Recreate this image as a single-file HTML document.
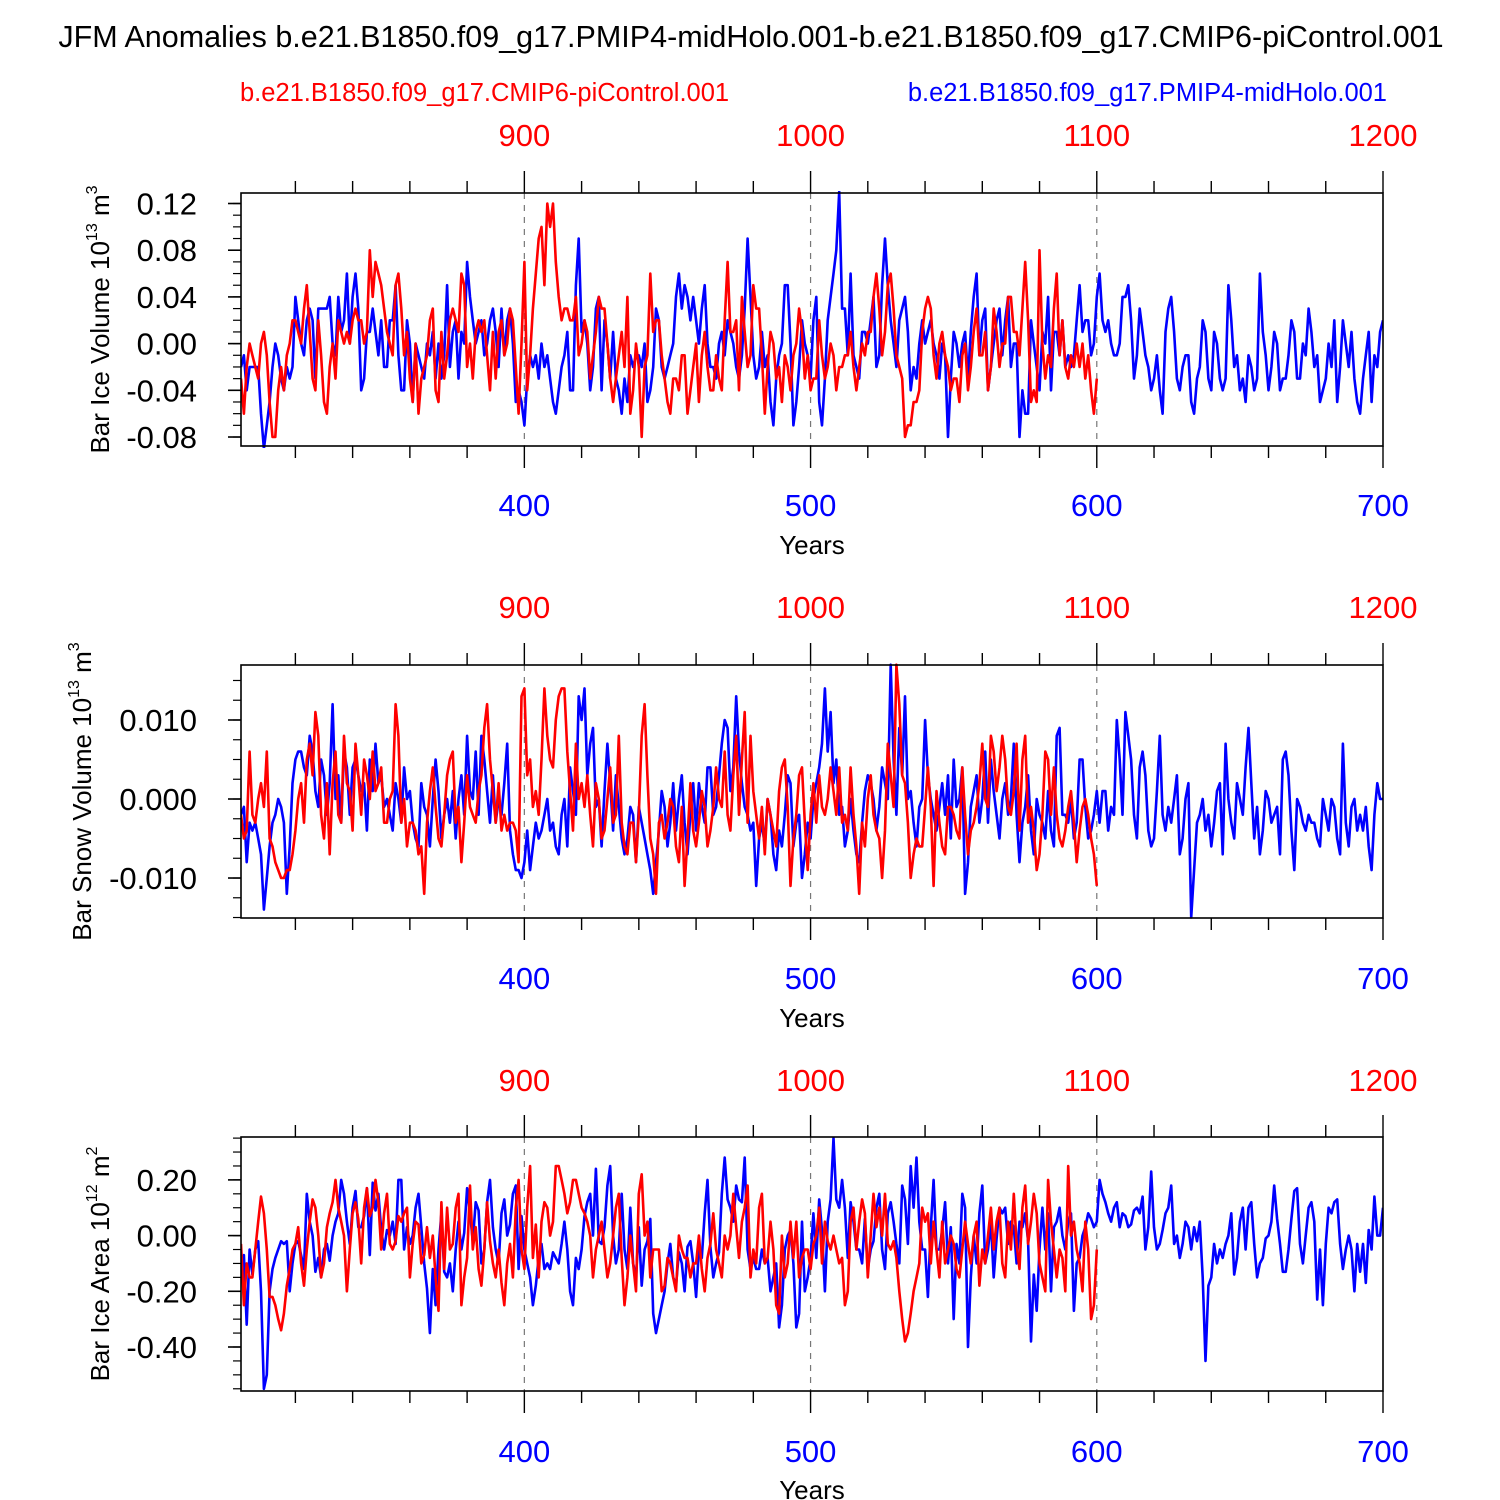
<!DOCTYPE html>
<html><head><meta charset="utf-8"><style>
html,body{margin:0;padding:0;background:#fff;}
svg{display:block;font-family:"Liberation Sans",Arial,sans-serif;}
</style></head><body>
<svg id="chart" width="1500" height="1500" viewBox="0 0 1500 1500" xmlns="http://www.w3.org/2000/svg">
<text x="751" y="47" font-size="30.5" text-anchor="middle">JFM Anomalies b.e21.B1850.f09_g17.PMIP4-midHolo.001-b.e21.B1850.f09_g17.CMIP6-piControl.001</text>
<text x="240" y="101" font-size="25.5" fill="#ff0000">b.e21.B1850.f09_g17.CMIP6-piControl.001</text>
<text x="1387" y="101" font-size="25.5" fill="#0000ff" text-anchor="end">b.e21.B1850.f09_g17.PMIP4-midHolo.001</text>
</svg>
<script>
// ===== data (year index: blue 301..700, red 801..1100) =====
const blueYearStart = 301;
const redYearStart = 801;
const redOffset = 500;
const xTicksBottom = [400, 500, 600, 700];
const xTicksTop = [900, 1000, 1100, 1200];

// Panel 1: Bar Ice Volume (units 0.01 x 1e13 m3)
const iceVolBlue = [-2,-1,-4,-2,-2,-2,-2,-6,-9,-7,-5,-2,0,-1,-3,-4,-2,-3,-2,4,
2,0,-1,2,3,2,-3,3,3,3,3,4,0,-1,4,1,2,6,0,4,
6,3,-4,-3,1,1,3,1,-1,2,-2,-2,2,2,5,-1,-4,-4,2,0,
-5,0,-1,-2,-3,0,-1,1,-3,0,-3,-1,5,-2,1,2,-3,1,0,7,
4,2,0,1,2,-1,0,2,3,1,-2,3,-1,2,3,0,-5,-4,-5,-7,
-3,-1,-2,-1,-3,0,-2,-1,-3,-5,-6,-4,-2,-1,1,-4,-4,5,9,1,
2,0,-4,-2,3,4,-4,2,0,-3,1,-3,-4,-6,-3,-5,-1,-2,-1,-1,
-2,0,-5,-4,-2,3,2,-2,-3,-2,-1,0,4,6,3,5,4,2,4,2,
0,3,5,0,-2,-2,-3,0,1,-1,2,1,0,-2,-3,-1,3,9,4,-1,
-3,-2,1,-2,-1,-5,-7,-3,-1,0,5,5,0,-7,-5,-2,2,0,-1,-3,
2,4,-5,-7,-3,2,4,6,8,13,3,3,-1,6,-1,-2,-3,1,1,0,
2,4,-2,-1,5,9,5,2,0,-2,2,3,4,1,-4,-2,-3,0,2,0,
1,2,0,-1,-3,0,-1,-8,-3,1,0,-2,0,1,-3,1,4,6,-1,2,
3,-4,-2,0,2,3,-1,2,4,-2,0,0,-8,-4,-6,-6,2,0,-2,-4,
1,0,4,-4,1,1,-1,2,-2,-1,-2,-1,2,5,1,2,2,-1,0,4,
6,2,1,2,0,-1,-1,0,4,4,5,2,-3,-1,3,1,-1,-2,-4,-3,
-1,-4,-6,1,3,4,1,-3,-4,-2,-1,-1,-5,-6,-3,-2,2,1,-3,-4,
1,0,-3,-4,-3,5,2,-2,-1,-4,-3,-5,-1,-2,-4,-3,6,1,-1,-4,
-2,1,0,-4,-3,-3,-1,2,1,-3,-3,0,-1,3,1,-2,-1,-5,-4,-3,
0,-2,2,-5,-2,2,0,-2,1,-3,-5,-6,-3,-1,1,-5,-1,-2,1,2];
const iceVolRed = [-3,-6,-2,0,-1,-2,-3,0,1,-1,-5,-8,-8,-4,-2,-4,-1,0,2,2,
1,0,3,5,1,-3,-4,2,-1,-5,-6,-2,0,-3,2,1,0,1,0,2,
3,2,2,0,1,8,4,7,6,5,3,1,0,-1,5,6,3,-1,1,-3,
-5,0,-6,-3,-2,-1,2,3,-4,-5,1,-3,-1,2,3,2,1,6,5,-2,
0,-3,1,2,1,2,-1,-4,1,-3,1,2,-1,0,3,2,-2,-6,0,7,
-4,-1,3,6,9,10,5,12,10,12,7,4,2,3,3,2,2,4,-1,0,
2,1,-3,-1,1,4,3,3,0,-3,-5,-3,-1,1,-2,4,-6,-4,0,-2,
-8,-2,-1,6,1,2,2,-1,-3,-5,-6,-3,-3,-4,-1,-1,-6,-4,-2,0,
-5,-1,1,-2,-4,-4,-1,-3,-4,2,7,1,1,2,-4,4,1,-2,-1,5,
3,3,-1,-6,-2,1,0,-3,-2,-5,-1,-2,-4,-1,0,3,1,-3,-1,-4,
-3,-3,2,-1,-3,-2,0,-1,-4,-2,-2,-1,-1,1,-2,-4,-2,0,-1,1,
1,4,6,3,-1,1,5,6,3,-1,-2,-3,-8,-7,-7,-5,-5,-4,1,3,
4,3,-1,-3,0,1,-1,-2,-4,-3,-3,-5,-1,0,-4,-2,1,3,-1,-1,
1,-4,-2,3,1,-2,0,0,4,4,1,1,-1,3,7,2,-5,-4,-5,8,
0,-3,-1,-2,3,6,-1,2,-2,-3,-1,-2,0,-2,0,-3,-1,-4,-6,-3];
const iceVolTicks = [0.12,0.08,0.04,0.00,-0.04,-0.08];
const iceVolTickLabels = ["0.12","0.08","0.04","0.00","-0.04","-0.08"];

// Panel 2: Bar Snow Volume (units 0.001 x 1e13 m3)
const snowVolBlue = [-2,-1,-8,-3,-4,-3,-5,-7,-14,-10,-6,-3,-2,0,-1,-3,-12,-6,2,5,
6,6,4,3,8,6,1,-1,5,3,-2,2,12,0,3,-3,6,4,-2,4,
5,3,1,2,-4,5,1,7,2,3,-1,0,-2,-4,2,0,-3,4,0,1,
-3,-5,-6,2,-1,-2,-6,0,5,1,-5,-2,0,-3,1,-5,0,3,-2,8,
1,0,6,-2,8,5,1,-3,3,-3,0,-2,2,7,-4,-7,-9,-9,-10,-8,
-4,-9,-6,-3,-5,-4,-2,0,-4,-3,-6,-7,-2,0,-6,4,1,-2,13,10,
14,3,7,9,-1,0,-6,1,7,2,-4,3,-1,-5,-7,-5,-1,-2,-8,-1,
-3,-5,-7,-9,-12,-8,-4,1,-1,-6,-3,2,-4,0,3,-3,-7,-2,2,-4,
2,-1,-3,4,4,-2,-1,3,7,10,9,1,4,13,6,2,-1,-2,-4,-3,
-11,-5,-3,-6,0,-2,-7,-9,-4,-6,-2,3,2,-6,-3,-2,-10,-7,-3,-5,
0,2,4,7,14,6,11,2,5,-2,-1,-6,-4,0,-4,-7,-8,-3,1,3,
2,0,-4,-1,4,2,0,17,5,-2,9,3,13,0,1,-3,-6,-1,0,10,
3,0,-2,-4,-1,2,-2,3,-5,5,-1,0,4,-12,-8,-1,1,3,-3,0,
6,-3,5,1,-2,-5,0,2,-2,0,7,-2,-8,-3,-1,3,-4,-7,0,-2,
-3,-5,1,-4,-6,8,9,-2,-2,-3,0,-5,-3,5,5,-1,-5,-4,-2,1,
-3,1,1,-4,-1,-2,10,5,-2,11,8,5,-2,-5,4,6,3,-4,-6,-5,
1,8,-2,-4,-1,-3,0,3,-7,-5,0,2,-15,-9,-3,-2,0,-4,-2,-6,
-3,1,2,-7,7,0,-3,-5,2,0,-2,4,9,2,-5,-1,-7,-4,1,0,
-3,-2,-1,-7,5,6,3,-4,-9,0,-1,-3,-4,-2,-3,-3,-5,-6,0,-2,
-4,0,-1,-5,-7,7,-3,-6,-1,0,-4,-2,-4,-1,-6,-9,-2,2,0,0];
const snowVolRed = [-2,-5,-4,6,-2,-3,0,2,-1,6,-5,-6,-8,-9,-10,-10,-9,-9,-7,-4,
0,2,-3,5,7,3,11,8,-2,-5,2,-7,2,6,-2,-3,8,2,1,-4,
7,3,-2,5,3,0,6,1,2,4,-3,-3,0,1,12,8,-3,0,-6,-3,
-3,-4,-7,-6,-12,-3,1,4,-1,-5,-6,-2,3,5,6,-3,-1,-8,-3,3,
-1,-2,-3,1,3,9,12,5,1,-3,2,-4,-2,-4,-3,-3,-4,-8,13,14,
3,5,-1,1,-2,5,14,8,5,4,10,13,14,14,6,1,-4,7,0,2,
-1,3,-2,-6,2,0,-5,-4,0,4,-3,-2,8,-3,-6,-7,-3,-3,-8,-2,
8,12,3,-5,-7,-12,-3,-2,-5,-3,0,-1,-6,-8,-1,-11,-5,2,-4,-6,
-3,1,-1,-6,-4,-1,4,0,-1,6,-2,-4,3,8,-2,5,11,-3,8,1,
-2,-5,-1,-7,0,-2,-4,-6,1,4,5,-1,-11,-5,-2,3,4,-3,-9,-2,
2,-3,3,-1,-2,0,4,1,-2,4,-3,-2,-4,4,-2,-6,-12,-3,-6,0,
3,-2,-4,-5,-10,-4,7,3,-1,17,12,3,2,-3,-10,-7,-5,-6,-6,-1,
4,-1,-11,1,-3,-6,-7,-1,-1,-2,-4,-5,4,-2,-7,-4,-3,-1,2,7,
0,-1,8,6,1,4,8,5,-1,-2,1,7,-4,5,8,-3,-1,-4,-9,-7,
-2,6,5,-2,4,-2,-5,-6,-4,-1,1,-3,-8,-4,-1,0,-2,-5,-7,-11];
const snowVolTicks = [0.010,0.000,-0.010];
const snowVolTickLabels = ["0.010","0.000","-0.010"];

// Panel 3: Bar Ice Area (units 0.01 x 1e12 m2)
const iceAreaBlue = [-10,-7,-32,-5,-14,-5,-2,-20,-55,-50,-20,-12,-8,-5,-2,-3,-2,-20,-10,-3,
-2,-7,-12,15,5,0,-13,-8,-15,-5,-3,-9,0,5,8,20,15,5,-3,10,
16,3,3,7,17,-7,19,9,15,2,-5,2,0,5,-3,20,20,-5,3,-3,
0,10,15,3,-10,-19,-35,-12,-25,-5,8,-13,-15,-10,-20,-5,5,-5,1,17,
8,-2,12,9,-10,-5,12,20,3,-5,-10,8,13,0,4,15,18,-12,7,-5,
-10,-15,-25,-18,-8,-3,-12,-10,-12,-6,-8,-10,-3,5,-5,-20,-25,-8,-12,-5,
7,12,15,0,24,-2,-3,3,18,25,0,-10,-5,15,-5,-12,10,-10,-15,3,
-18,-5,-2,6,-28,-35,-30,-25,-20,-10,-3,-15,-18,-6,-10,-20,-4,-2,-10,-22,
-5,-8,8,20,-4,-15,-10,-6,15,28,13,10,5,18,13,12,28,-5,-12,-8,
-12,-12,-5,-10,-8,-20,-15,-10,-33,-25,-5,0,2,-10,-33,-28,5,-20,-15,-8,
8,-8,13,2,-20,5,13,35,13,10,20,10,-8,12,5,-5,-5,-10,6,-12,
-5,-2,10,15,-5,-12,8,12,5,-3,-10,18,13,-3,25,10,28,5,-5,-5,
-22,3,20,-5,-5,2,12,-10,3,-30,-3,-10,15,10,-40,-15,0,-10,8,18,
-10,-5,5,-15,-1,10,8,10,-3,5,3,-10,5,3,8,-2,-38,-14,-27,-5,
10,-5,8,-20,3,5,10,0,-5,5,8,-27,-10,-8,0,3,8,6,3,5,
20,15,12,8,5,10,12,3,8,7,3,4,9,10,8,14,-5,3,23,3,
-5,-3,2,8,10,18,-3,0,-8,-3,5,3,-5,3,-2,5,-15,-45,-18,-15,
-3,-10,-5,-8,-3,0,8,-14,-8,5,10,-5,10,12,-3,-15,-10,-8,-1,0,
5,18,6,-3,-13,-13,-5,6,16,17,-3,-10,0,10,12,5,-23,-5,-25,-3,
10,8,12,13,-3,-12,-5,0,-5,-20,-3,-13,-3,-17,2,-5,14,0,0,10];
const iceAreaRed = [-3,-25,-10,-15,-15,-5,5,14,8,-5,-22,-22,-25,-30,-34,-28,-18,-12,-5,-3,
3,-10,-18,-5,5,13,10,0,-15,-10,3,8,12,20,10,5,0,-20,-5,8,
12,6,-10,10,17,7,10,20,12,-5,8,15,-3,-5,-2,7,5,8,10,-15,
-3,5,4,-10,-7,3,-8,0,-15,-27,12,-12,10,-5,-3,10,15,-25,-15,-8,
18,-5,3,-12,-18,-5,12,-2,-10,-15,-5,-17,-25,-10,-3,-15,10,20,-5,-12,
10,25,-8,4,-15,5,12,10,0,5,25,25,20,15,8,12,20,20,15,10,
8,5,0,-15,-5,0,5,-5,-15,-10,0,10,15,-8,-25,-15,0,-10,-20,15,
22,0,5,-15,-5,-5,-5,-20,-18,-8,-10,-15,-20,0,-5,-8,-8,-15,-10,-10,
0,-12,-20,-8,-3,8,-5,-10,-15,0,-5,0,15,3,-8,5,10,18,-15,-5,
-10,10,15,-10,-8,5,-5,-25,-28,0,-15,-10,5,-8,5,-15,-8,-5,-5,-12,
-3,0,10,-10,5,-2,-5,0,-5,-10,-8,-25,-20,5,10,-5,5,13,8,-15,
0,15,3,10,0,15,-3,-5,-2,-8,-20,-30,-38,-35,-28,-20,-15,-10,10,5,
8,-10,5,-5,-15,5,-10,-5,0,-3,-12,-15,-5,5,-3,-10,0,5,-18,-5,
-10,0,10,-5,5,10,-10,-15,5,-5,15,-3,-12,10,18,-3,5,15,8,-10,
-15,-20,20,5,-5,-15,-5,-8,-20,25,0,5,-5,-10,-20,5,-5,-30,-25,-5];
const iceAreaTicks = [0.20,0.00,-0.20,-0.40];
const iceAreaTickLabels = ["0.20","0.00","-0.20","-0.40"];

// ===== rendering =====
const NS = "http://www.w3.org/2000/svg";
const svg = document.getElementById("chart");
function mk(tag, attrs, parent){
  const e = document.createElementNS(NS, tag);
  for (const k in attrs) e.setAttribute(k, attrs[k]);
  (parent||svg).appendChild(e);
  return e;
}
const X0 = 241, X1 = 1383, YR0 = 301, YR1 = 700;
function xScale(yr){ return X0 + (yr - YR0) / (YR1 - YR0) * (X1 - X0); }

const panels = [
  {name:"ice-volume", top:193, bot:446, vTop:0.129, vBot:-0.0877, scale:0.01, blue:iceVolBlue, red:iceVolRed,
   ticks:iceVolTicks, labels:iceVolTickLabels, minorStep:0.01, title:"Bar Ice Volume 10", sup:"13", unit:" m", sup2:"3", tx:100, topLblY:146, botLblY:516, yearsY:554},
  {name:"snow-volume", top:665, bot:918, vTop:0.01696, vBot:-0.01506, scale:0.001, blue:snowVolBlue, red:snowVolRed,
   ticks:snowVolTicks, labels:snowVolTickLabels, minorStep:0.0025, title:"Bar Snow Volume 10", sup:"13", unit:" m", sup2:"3", tx:82, topLblY:618, botLblY:989, yearsY:1027},
  {name:"ice-area", top:1137, bot:1391, vTop:0.354, vBot:-0.558, scale:0.01, blue:iceAreaBlue, red:iceAreaRed,
   ticks:iceAreaTicks, labels:iceAreaTickLabels, minorStep:0.05, title:"Bar Ice Area 10", sup:"12", unit:" m", sup2:"2", tx:100, topLblY:1091, botLblY:1462, yearsY:1499}
];

panels.forEach(p => {
  const g = mk("g", {});
  
  
  const yS = v => p.top + (p.vTop - v) / (p.vTop - p.vBot) * (p.bot - p.top);

  [400,500,600].forEach(yr => {
    const l = mk("line", {x1:xScale(yr), x2:xScale(yr), y1:p.top, y2:p.bot, stroke:"#777", "stroke-width":1.2, "stroke-dasharray":"6,6"}, g);
    
    
  });

  const cp = mk("clipPath", {id:"clip-" + p.name}, g);
  mk("rect", {x:X0, y:p.top - 2, width:X1-X0, height:p.bot-p.top + 4}, cp);
  const sg = mk("g", {"clip-path":"url(#clip-" + p.name + ")"}, g);
  function series(arr, start, off, color, nm){
    let d = "";
    arr.forEach((v,i) => {
      const x = xScale(start + i - off), y = yS(v * p.scale);
      d += (i ? "L" : "M") + x.toFixed(1) + "," + y.toFixed(1);
    });
    const path = mk("path", {d:d, fill:"none", stroke:color, "stroke-width":2.6, "stroke-linejoin":"round"}, sg);
    
    
  }
  series(p.blue, blueYearStart, 0, "#0000ff", p.name + "-midholo-line");
  series(p.red, redYearStart, redOffset, "#ff0000", p.name + "-picontrol-line");

  const fr = mk("rect", {x:X0, y:p.top, width:X1-X0, height:p.bot-p.top, fill:"none", stroke:"#000", "stroke-width":1.6}, g);
  
  

  for (let yr = 320; yr <= 700; yr += 20) {
    const major = yr % 100 === 0;
    const len = major ? 22 : 12;
    const x = xScale(yr);
    mk("line", {x1:x, x2:x, y1:p.bot, y2:p.bot + len, stroke:"#000", "stroke-width":1.4}, g);
    mk("line", {x1:x, x2:x, y1:p.top, y2:p.top - len, stroke:"#000", "stroke-width":1.4}, g);
  }
  xTicksBottom.forEach(yr => {
    const t = mk("text", {x:xScale(yr), y:p.botLblY, "font-size":31, fill:"#0000ff", "text-anchor":"middle"}, g);
    t.textContent = yr;
    
    
  });
  xTicksTop.forEach(yr => {
    const t = mk("text", {x:xScale(yr - redOffset), y:p.topLblY, "font-size":31, fill:"#ff0000", "text-anchor":"middle"}, g);
    t.textContent = yr;
    
    
  });
  const yt = mk("text", {x:(X0+X1)/2, y:p.yearsY, "font-size":26, "text-anchor":"middle"}, g);
  yt.textContent = "Years";
  
  

  const nMin = Math.ceil(p.vBot / p.minorStep), nMax = Math.floor(p.vTop / p.minorStep);
  for (let k = nMin; k <= nMax; k++) {
    const y = yS(k * p.minorStep);
    mk("line", {x1:X0, x2:X0 - 8, y1:y, y2:y, stroke:"#000", "stroke-width":1.2}, g);
  }
  p.ticks.forEach((v, i) => {
    const y = yS(v);
    mk("line", {x1:X0, x2:X0 - 13, y1:y, y2:y, stroke:"#000", "stroke-width":1.6}, g);
    const t = mk("text", {x:197, y:y + 11, "font-size":31, "text-anchor":"end"}, g);
    t.textContent = p.labels[i];
    
    
  });

  const cy = (p.top + p.bot) / 2;
  const tt = mk("text", {x:0, y:0, "font-size":26, "text-anchor":"middle", transform:"translate(" + (p.tx + 9) + "," + cy + ") rotate(-90)"}, g);
  
  
  const a = mk("tspan", {}, tt); a.textContent = p.title;
  const b = mk("tspan", {dy:-12, "font-size":16}, tt); b.textContent = p.sup;
  const c = mk("tspan", {dy:12}, tt); c.textContent = p.unit;
  const d = mk("tspan", {dy:-12, "font-size":16}, tt); d.textContent = p.sup2;
});
</script>
</body></html>
